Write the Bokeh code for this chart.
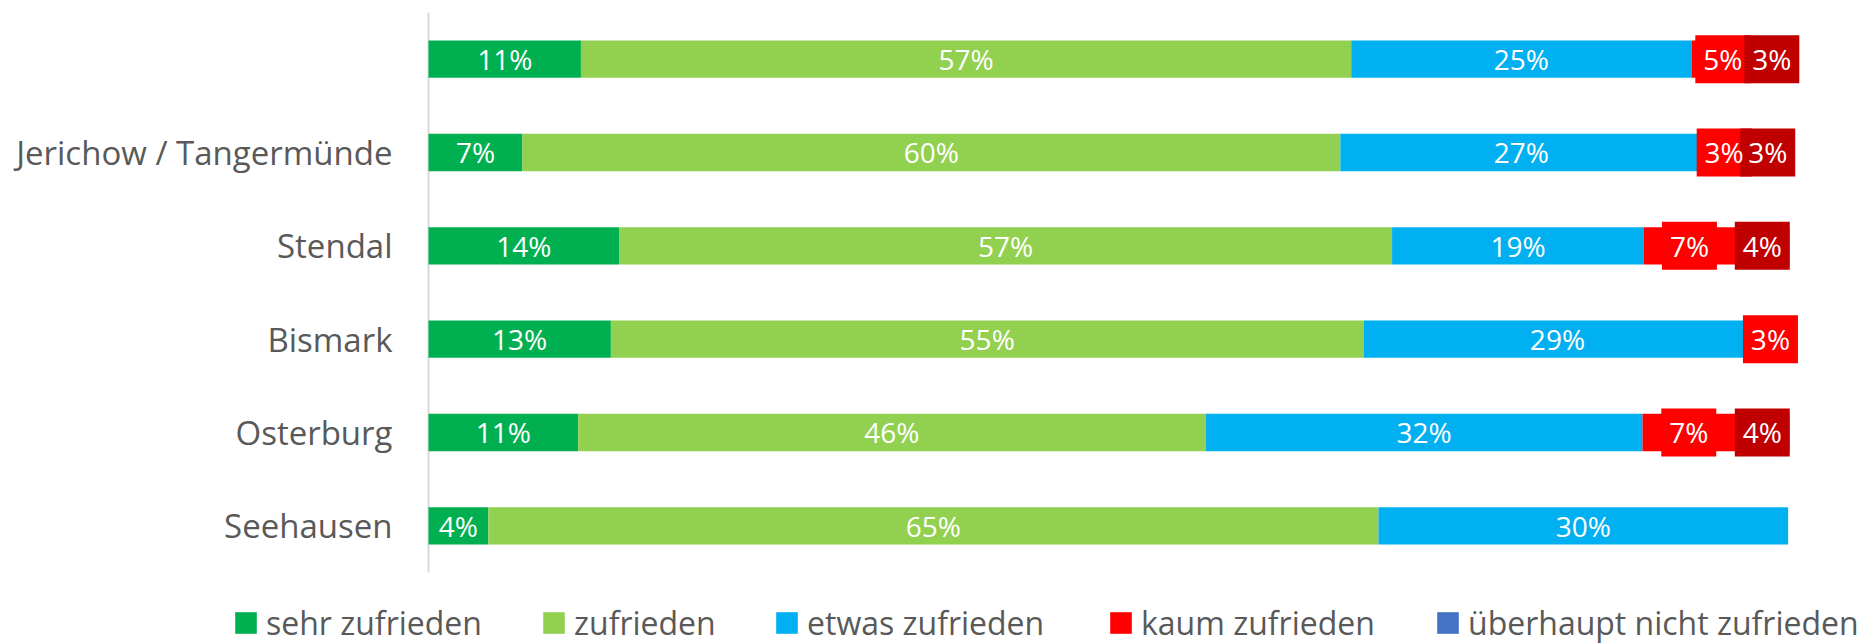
from bokeh.plotting import figure
from bokeh.models import ColumnDataSource, Legend, LegendItem
from bokeh.core.properties import value
from bokeh.embed import file_html
from bokeh.resources import INLINE

# ---- data (percent) ----
categories = ["Seehausen", "Osterburg", "Bismark", "Stendal", "Jerichow / Tangermünde", ""]
series = ["sehr zufrieden", "zufrieden", "etwas zufrieden", "kaum zufrieden", "überhaupt nicht zufrieden"]
sehr_zufrieden = [4.4, 11.0, 13.4, 14.0, 6.9, 11.2]
zufrieden = [65.4, 46.1, 55.3, 56.8, 60.1, 56.6]
etwas_zufrieden = [30.1, 32.1, 28.5, 18.5, 26.6, 25.0]
kaum_zufrieden = [0, 6.8, 2.8, 6.7, 3.2, 4.6]
nicht_zufrieden = [0, 4.0, 0, 4.0, 3.2, 2.6]

colors = ["#00B050", "#92D050", "#00B0F0", "#FF0000", "#4472C4"]
label_box_colors = [None, None, None, "#FF0000", "#C00000"]

values = [sehr_zufrieden, zufrieden, etwas_zufrieden, kaum_zufrieden, nicht_zufrieden]
keys = ["s0", "s1", "s2", "s3", "s4"]
n = len(categories)
ypos = list(range(n))

data = {"y": ypos}
for k, v in zip(keys, values):
    data[k] = v
source = ColumnDataSource(data)

# ---- layout (pixels) ----
FIG_W, FIG_H = 1870, 644
AXIS_X = 428      # pixel position of 0 %
SCALE = 13.61     # px per percent
TOP = 12          # pixel top of the category area
UNIT = 93.33      # px per category row
LEGEND_X = [232, 540, 773, 1107, 1434]   # left edge of each legend entry

x_range = (-AXIS_X / SCALE, (FIG_W - AXIS_X) / SCALE)
y_top = (n - 0.5) + TOP / UNIT
y_bottom = y_top - FIG_H / UNIT

p = figure(
    width=FIG_W, height=FIG_H,
    x_range=x_range, y_range=(y_bottom, y_top),
    x_axis_location=None, y_axis_location=None,
    output_backend="svg", toolbar_location=None,
    min_border=0, min_border_left=0, min_border_right=0, min_border_top=0, min_border_bottom=0,
)
p.outline_line_color = None
p.grid.grid_line_color = None
p.background_fill_color = "white"

# category axis line
p.segment(x0=[0], y0=[-0.5], x1=[0], y1=[n - 0.5], line_color="#D9D9D9", line_width=2)

renderers = p.hbar_stack(keys, y="y", height=0.4, color=colors, line_color=None, source=source)

# data labels
cum = [0.0] * n
label_sets = []
for i, v in enumerate(values):
    xs, ys, ts = [], [], []
    for j, val in enumerate(v):
        if val > 0:
            xs.append(cum[j] + val / 2.0)
            ys.append(ypos[j])
            ts.append("%d%%" % int(val + 0.5))
        cum[j] += val
    label_sets.append((xs, ys, ts))

for i in (3, 4):
    xs, ys, ts = label_sets[i]
    p.rect(x=xs, y=ys, width=55, height=48, width_units="screen", height_units="screen",
           fill_color=label_box_colors[i], line_color=None)

for i in range(5):
    xs, ys, ts = label_sets[i]
    p.text(x=xs, y=ys, text=ts, text_color="white", text_font=value("Open Sans"),
           text_font_size="28px", text_align="center", text_baseline="middle")

# category labels
p.text(x=[0] * n, y=ypos, text=categories, x_offset=-36, text_align="right",
       text_baseline="middle", text_font=value("Open Sans"), text_font_size="33px",
       text_color="#595959")

# legend: one entry per Legend so each can sit where the reference has it
for s, r, lx in zip(series, renderers, LEGEND_X):
    legend = Legend(
        items=[LegendItem(label=s, renderers=[r])],
        orientation="horizontal",
        location=(lx, 0),
        label_text_font="Open Sans", label_text_font_size="32px", label_text_color="#595959",
        glyph_width=27, glyph_height=27, label_standoff=7, spacing=0,
        padding=0, margin=0, border_line_color=None, background_fill_alpha=0,
    )
    p.add_layout(legend)

open("out.html", "w").write(file_html(p, INLINE))
